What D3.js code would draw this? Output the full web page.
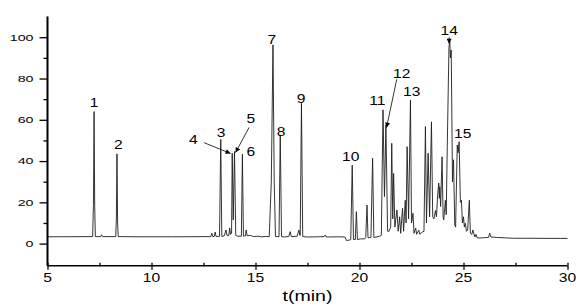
<!DOCTYPE html>
<html><head><meta charset="utf-8">
<script src="https://cdn.jsdelivr.net/npm/d3@7"></script>
<style>
html,body{margin:0;padding:0;background:#fff;}
svg{display:block;}
text{font-family:"Liberation Sans",Arial,Helvetica,sans-serif;fill:#000;}
</style></head>
<body>
<svg id="chart" width="585" height="308"></svg>
<script>
// ---- data ----
const traceTime = [5.00,7.17,7.21,7.24,7.27,7.30,7.55,7.60,7.65,8.28,8.31,8.34,8.37,8.40,9.5,11.0,12.85,12.90,12.95,13.02,13.06,13.10,
 13.27,13.33,13.38,13.50,13.58,13.63,13.72,13.76,13.80,13.85,13.88,13.93,13.99,14.05,14.15,14.32,14.37,14.42,14.52,14.55,14.60,
 14.75,14.9,15.1,15.3,15.5,15.66,15.76,15.84,15.90,15.96,16.13,16.19,16.25,16.40,16.60,16.67,16.72,17.00,17.09,17.13,17.15,17.21,17.27,
 17.5,18.0,18.3,18.35,18.4,19.0,19.3,19.38,19.55,19.58,19.65,19.71,19.80,19.85,19.90,20.05,20.25,20.30,20.36,20.41,20.55,20.63,20.69,
 20.95,21.05,21.13,21.20,21.27,21.35,21.42,21.50,21.55,21.60,21.64,21.70,21.80,21.86,21.93,21.98,22.07,22.12,22.20,22.24,22.29,22.36,
 22.45,22.50,22.57,22.62,22.70,22.75,22.85,22.90,23.00,23.10,23.17,23.22,23.30,23.37,23.46,23.52,23.58,23.65,23.70,23.76,23.81,23.84,
 23.86,23.90,23.97,24.02,24.05,24.13,24.17,24.22,24.30,24.34,24.37,24.41,24.47,24.52,24.58,24.62,24.70,24.74,24.79,24.85,24.90,24.95,
 25.00,25.04,25.09,25.14,25.20,25.28,25.33,25.40,25.45,25.49,25.55,25.60,25.66,25.80,26.00,26.20,26.26,26.32,26.60,27.00,27.40,28.0,30.0];
const traceSignal = [3.3,3.4,19,64,18,3.4,3.4,4.3,3.4,3.4,12,43.5,10,3.4,3.3,3.3,3.4,5.0,3.4,3.6,5.6,3.5,
 3.5,50.5,3.5,3.8,6.6,4.0,4.0,7.6,4.5,5.0,43.8,11.5,44.6,4.0,3.6,3.6,43.3,3.6,3.8,6.6,3.8,
 4.0,3.4,3.6,3.3,3.5,3.4,30,96.3,30,3.4,3.4,52.7,3.4,3.2,3.5,5.8,3.4,3.6,6.6,4.0,4.0,68,3.4,
 3.2,3.3,3.4,4.2,3.2,3.3,3.2,1.5,1.8,2.0,38,2.0,2.0,15.5,2.0,2.3,2.3,3.0,18.7,2.8,3.0,41.4,3.0,
 3.5,4.0,64.8,22.8,57.5,6.0,6.0,8.0,48.6,12,34,8.0,16.3,6.0,13,5.0,17.1,6.0,21,10,47,12,
 69.6,10,14.7,5.0,7.5,4.5,6.5,4.5,5.5,6.0,56.7,10,43.8,13,59,13,12,16,13,24,29.3,22,
 27.6,18,42.1,13,11.5,21,14,47,95,97.9,90,93.8,30,40.6,9.0,8.0,47.8,44,49.4,20,21,10,
 13,8.0,9.9,6.0,6.5,21,5.0,4.5,6.6,5.0,3.2,4.5,2.8,2.7,2.9,3.0,5.0,3.2,3.0,2.8,2.6,2.6,2.5];

const peakLabels     = ["1","2","3","4","5","6","7","8","9","10","11","12","13","14","15"];
const peakLabelTime  = [7.24,8.40,13.34,12.01,14.77,14.77,15.78,16.23,17.19,19.58,20.86,22.03,22.51,24.31,24.96];
const peakLabelValue = [66.2,46.3,51.8,48.7,58.9,42.9,97.2,52.6,68.6,40.5,67.2,80.7,72.0,101.1,51.2];

// arrows: [fromTime, fromValue, toTime, toValue]
const arrowFromTime  = [12.53,14.69,21.79,24.31];
const arrowFromValue = [48.9,56.3,79.6,100.0];
const arrowToTime    = [13.80,14.04,21.30,24.31];
const arrowToValue   = [43.7,44.1,56.2,96.8];

const xMajorTicks = [5,10,15,20,25,30];
const xMinorTicks = [7.5,12.5,17.5,22.5,27.5];
const yMajorTicks = [0,20,40,60,80,100];
const yMinorTicks = [10,30,50,70,90];
const xTitle = "t(min)";

// ---- scales ----
const svg = d3.select("#chart");
const x = d3.scaleLinear().domain([5,30]).range([47.5,567.5]);
const y = d3.scaleLinear().domain([-10.7,110]).range([265.7,16.6]);

// trace
const pts = traceTime.map((t,i)=>[t,traceSignal[i]]);
svg.append("path")
  .datum(pts)
  .attr("fill","none")
  .attr("stroke","#1e1e1e")
  .attr("stroke-width",0.9)
  .attr("stroke-linejoin","miter")
  .attr("d", d3.line().x(d=>x(d[0])).y(d=>y(d[1])));

// axes
const yAxisG = svg.append("g").attr("transform",`translate(${x(5)},0)`);
yAxisG.call(d3.axisLeft(y).tickValues(yMajorTicks).tickSize(8).tickFormat(""));
yAxisG.append("g").call(d3.axisLeft(y).tickValues(yMinorTicks).tickSize(4).tickFormat(""));
yAxisG.selectAll(".domain").attr("stroke","#000").attr("stroke-width",1.6).attr("d",`M0,${y(110)}V${y(-10.7)}`);
yAxisG.selectAll(".tick line").attr("stroke","#000").attr("stroke-width",1.3);

const xAxisG = svg.append("g").attr("transform",`translate(0,${y(-10.7)})`);
xAxisG.call(d3.axisBottom(x).tickValues(xMajorTicks).tickSize(4).tickFormat(""));
xAxisG.append("g").call(d3.axisTop(x).tickValues(xMinorTicks).tickSize(3).tickFormat(""));
xAxisG.append("g").call(d3.axisTop(x).tickValues(xMajorTicks).tickSize(3).tickFormat(""));
xAxisG.selectAll(".domain").attr("stroke","#000").attr("stroke-width",1.6).attr("d",`M${x(5)},0H${x(30)}`);
xAxisG.selectAll("g g .domain").remove();
xAxisG.selectAll(".tick line").attr("stroke","#000").attr("stroke-width",1.3);

// stretched text helper
function stext(str, px, py, size, sx, anchor){
  svg.append("text")
    .attr("transform",`translate(${px},${py}) scale(${sx},1)`)
    .attr("text-anchor",anchor)
    .attr("font-size",size)
    .text(str);
}
// y tick labels
yMajorTicks.forEach(v=>stext(String(v), 33.5, y(v)+3.4, 9.5, 1.5, "end"));
// x tick labels
xMajorTicks.forEach(v=>stext(String(v), x(v), 281.5, 12.5, 1.25, "middle"));
// x title
stext(xTitle, (x(5)+x(30))/2, 300.5, 14, 1.4, "middle");

// peak labels
peakLabels.forEach((s,i)=>stext(s, x(peakLabelTime[i]), y(peakLabelValue[i])+0.5, 13, 1.2, "middle"));

// arrows
const defs = svg.append("defs");
defs.append("marker").attr("id","ah").attr("viewBox","0 0 10 10").attr("refX",10).attr("refY",5)
  .attr("markerWidth",6).attr("markerHeight",5).attr("markerUnits","userSpaceOnUse").attr("orient","auto")
  .append("path").attr("d","M0,0L10,5L0,10Z").attr("fill","#000");
arrowFromTime.forEach((t,i)=>{
  svg.append("line")
    .attr("x1",x(t)).attr("y1",y(arrowFromValue[i]))
    .attr("x2",x(arrowToTime[i])).attr("y2",y(arrowToValue[i]))
    .attr("stroke","#000").attr("stroke-width",0.8)
    .attr("marker-end","url(#ah)");
});
</script>
</body></html>
